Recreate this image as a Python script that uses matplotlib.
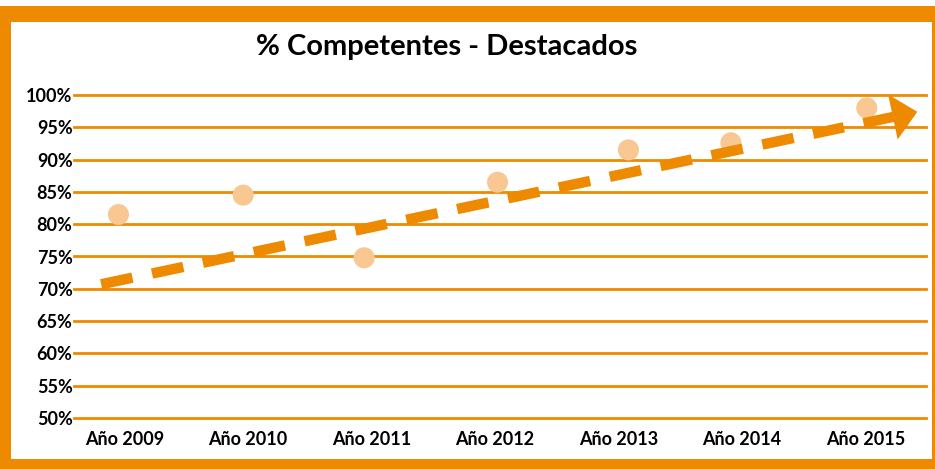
import matplotlib.pyplot as plt
from matplotlib.patches import Rectangle

# datos
years = ["Año 2009", "Año 2010", "Año 2011", "Año 2012", "Año 2013", "Año 2014", "Año 2015"]
pct = [81.5, 84.5, 74.8, 86.5, 91.5, 92.6, 98.0]
# posición horizontal de cada punto (tal como aparece en la imagen)
pos = [-0.05, 0.96, 1.94, 3.02, 4.08, 4.91, 6.01]
y_ticks = [50, 55, 60, 65, 70, 75, 80, 85, 90, 95, 100]
# tendencia (inicio y fin, en posiciones de categoría)
trend_x = [-0.19, 6.42]
trend_y = [70.7, 97.4]

orange = "#EE8A00"
peach = "#F8C792"

plt.rcParams['font.family'] = ['Lato', 'DejaVu Sans']

fig = plt.figure(figsize=(9.35, 4.69), dpi=100)

# marco naranja
W, H = 935, 469
fig.patches.append(Rectangle((0, 0), 1, 1 - 6 / H, transform=fig.transFigure,
                             facecolor=orange, edgecolor="none", zorder=-10))
fig.patches.append(Rectangle((11 / W, 10 / H), (932 - 11) / W, (469 - 22 - 10) / H,
                             transform=fig.transFigure, facecolor="white",
                             edgecolor="none", zorder=-9))

ax = fig.add_axes([74 / W, 1 - 418 / H, (926 - 74) / W, (418 - 95) / H])
ax.patch.set_alpha(0)
ax.set_xlim(-0.41, 6.49)
ax.set_ylim(50, 100)

for t in y_ticks:
    ax.axhline(t, color=orange, lw=2, zorder=1, clip_on=False)

ax.scatter(pos, pct, s=230, color=peach, edgecolors="none", zorder=2, clip_on=False)

# flecha discontinua: tramo punteado + última raya con punta
dx = trend_x[1] - trend_x[0]
dy = trend_y[1] - trend_y[0]
f_line, f_head = 0.910, 0.934
ax.plot([trend_x[0], trend_x[0] + f_line * dx], [trend_y[0], trend_y[0] + f_line * dy],
        color=orange, lw=7.5, dashes=(3.07, 1.92), solid_capstyle="butt",
        dash_capstyle="butt", zorder=3, clip_on=False)
ax.annotate("", xy=(trend_x[1], trend_y[1]),
            xytext=(trend_x[0] + f_head * dx, trend_y[0] + f_head * dy),
            arrowprops=dict(arrowstyle="simple,head_length=0.9,head_width=1.66,tail_width=0.37",
                            mutation_scale=20, color=orange, lw=0,
                            shrinkA=0, shrinkB=0),
            zorder=3, annotation_clip=False)

ax.set_xticks(range(len(years)))
ax.set_xticklabels(years, fontsize=13, fontweight="bold")
ax.set_yticks(y_ticks)
ax.set_yticklabels([f"{t}%" for t in y_ticks], fontsize=13, fontweight="bold")
ax.tick_params(length=0)
ax.tick_params(axis="y", pad=1)
ax.tick_params(axis="x", pad=9)
for s in ax.spines.values():
    s.set_visible(False)

fig.text(447 / W, 1 - 47 / H, "% Competentes - Destacados", ha="center", va="center",
         fontsize=21, fontweight="bold")

fig.savefig("out.png", dpi=100)
